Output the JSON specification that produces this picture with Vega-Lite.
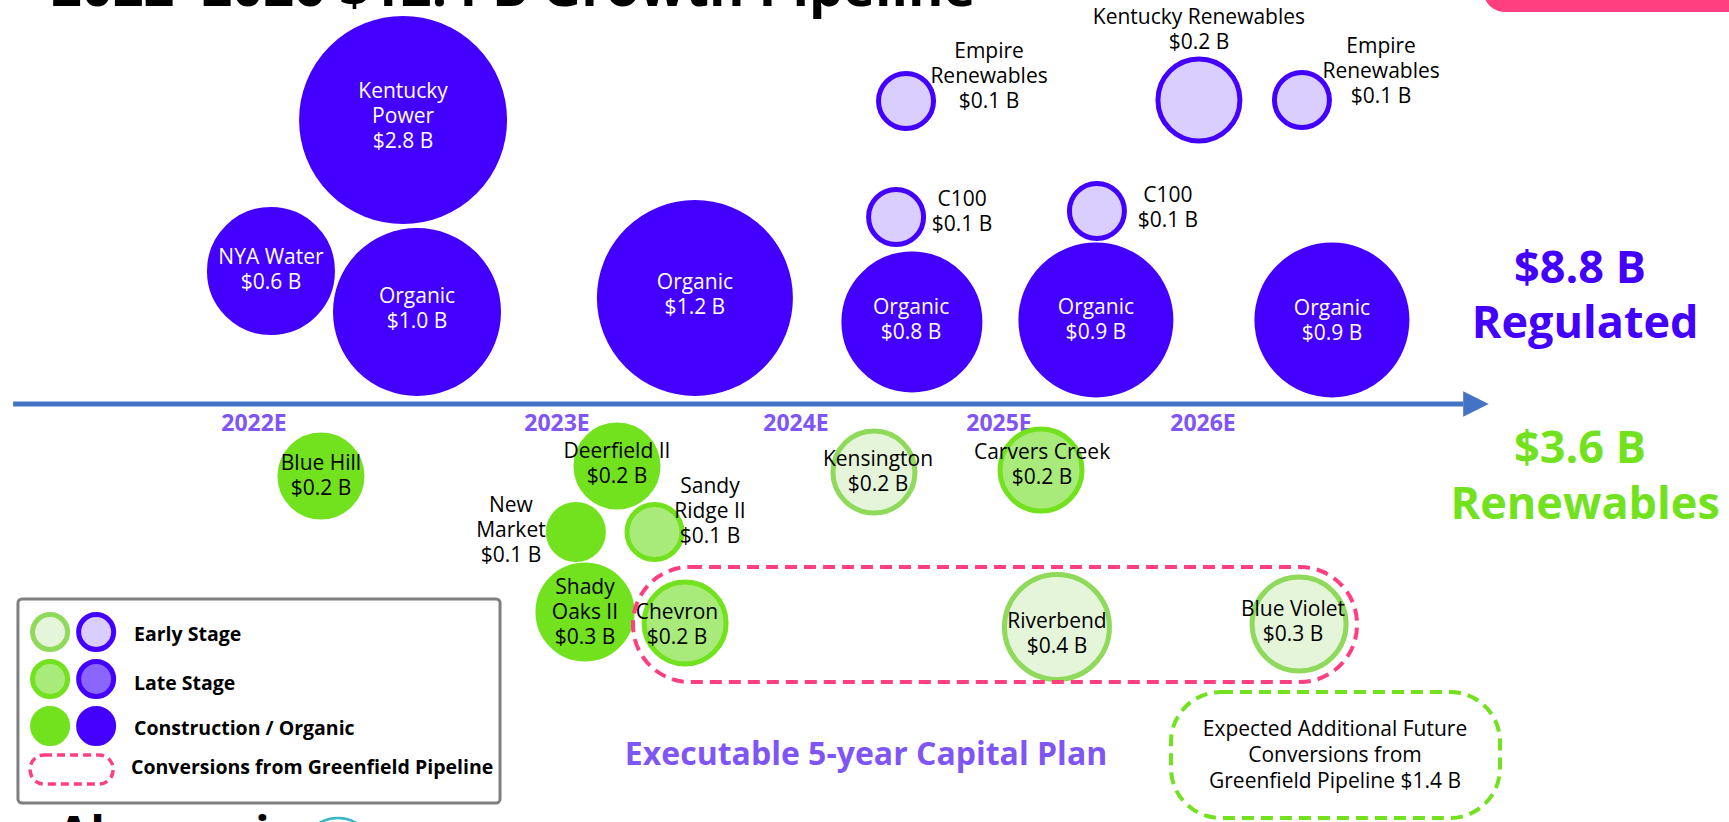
{
  "$schema": "https://vega.github.io/schema/vega-lite/v6.json",
  "width": 1729,
  "height": 822,
  "autosize": {"type": "none"},
  "padding": 0,
  "background": "white",
  "config": {"view": {"stroke": null}, "font": "Open Sans"},
  "datasets": {
    "bubbles": [
      {"name": "Kentucky Power", "value": 2.8, "segment": "Regulated", "stage": "Construction / Organic", "t": 2022.492, "level": 2.84, "label": "Kentucky\nPower\n$2.8 B", "lt": 2022.492, "ly": 3.12},
      {"name": "NYA Water", "value": 0.6, "segment": "Regulated", "stage": "Construction / Organic", "t": 2022.056, "level": 1.33, "label": "NYA Water\n$0.6 B", "lt": 2022.056, "ly": 1.46},
      {"name": "Organic 2022", "value": 1.0, "segment": "Regulated", "stage": "Construction / Organic", "t": 2022.538, "level": 0.92, "label": "Organic\n$1.0 B", "lt": 2022.538, "ly": 1.07},
      {"name": "Organic 2023", "value": 1.2, "segment": "Regulated", "stage": "Construction / Organic", "t": 2023.577, "level": 1.06, "label": "Organic\n$1.2 B", "lt": 2023.577, "ly": 1.21},
      {"name": "Organic 2024", "value": 0.8, "segment": "Regulated", "stage": "Construction / Organic", "t": 2024.571, "level": 0.82, "label": "Organic\n$0.8 B", "lt": 2024.567, "ly": 0.96},
      {"name": "Organic 2025", "value": 0.9, "segment": "Regulated", "stage": "Construction / Organic", "t": 2025.475, "level": 0.84, "label": "Organic\n$0.9 B", "lt": 2025.475, "ly": 0.96},
      {"name": "Organic 2026", "value": 0.9, "segment": "Regulated", "stage": "Construction / Organic", "t": 2026.632, "level": 0.84, "label": "Organic\n$0.9 B", "lt": 2026.632, "ly": 0.95},
      {"name": "Empire Renewables 2024", "value": 0.1, "segment": "Regulated", "stage": "Early Stage", "t": 2024.542, "level": 3.03, "label": "Empire\nRenewables\n$0.1 B", "lt": 2024.951, "ly": 3.52},
      {"name": "C100 2024", "value": 0.1, "segment": "Regulated", "stage": "Early Stage", "t": 2024.493, "level": 1.87, "label": "C100\n$0.1 B", "lt": 2024.818, "ly": 2.04},
      {"name": "C100 2025", "value": 0.1, "segment": "Regulated", "stage": "Early Stage", "t": 2025.48, "level": 1.93, "label": "C100\n$0.1 B", "lt": 2025.828, "ly": 2.08},
      {"name": "Kentucky Renewables", "value": 0.2, "segment": "Regulated", "stage": "Early Stage", "t": 2025.98, "level": 3.04, "label": "Kentucky Renewables\n$0.2 B", "lt": 2025.98, "ly": 3.86},
      {"name": "Empire Renewables 2026", "value": 0.1, "segment": "Regulated", "stage": "Early Stage", "t": 2026.485, "level": 3.04, "label": "Empire\nRenewables\n$0.1 B", "lt": 2026.873, "ly": 3.57},
      {"name": "Blue Hill", "value": 0.2, "segment": "Renewables", "stage": "Construction / Organic", "t": 2022.221, "level": -0.72, "label": "Blue Hill\n$0.2 B", "lt": 2022.221, "ly": -0.6},
      {"name": "Deerfield II", "value": 0.2, "segment": "Renewables", "stage": "Construction / Organic", "t": 2023.251, "level": -0.62, "label": "Deerfield II\n$0.2 B", "lt": 2023.251, "ly": -0.48},
      {"name": "New Market", "value": 0.1, "segment": "Renewables", "stage": "Construction / Organic", "t": 2023.079, "level": -1.28, "label": "New\nMarket\n$0.1 B", "lt": 2022.848, "ly": -1.02},
      {"name": "Sandy Ridge II", "value": 0.1, "segment": "Renewables", "stage": "Late Stage", "t": 2023.408, "level": -1.28, "label": "Sandy\nRidge II\n$0.1 B", "lt": 2023.64, "ly": -0.83},
      {"name": "Shady Oaks II", "value": 0.3, "segment": "Renewables", "stage": "Construction / Organic", "t": 2023.117, "level": -2.08, "label": "Shady\nOaks II\n$0.3 B", "lt": 2023.117, "ly": -1.84},
      {"name": "Chevron", "value": 0.2, "segment": "Renewables", "stage": "Late Stage", "t": 2023.536, "level": -2.19, "label": "Chevron\n$0.2 B", "lt": 2023.502, "ly": -2.09},
      {"name": "Kensington", "value": 0.2, "segment": "Renewables", "stage": "Early Stage", "t": 2024.384, "level": -0.68, "label": "Kensington\n$0.2 B", "lt": 2024.404, "ly": -0.56},
      {"name": "Carvers Creek", "value": 0.2, "segment": "Renewables", "stage": "Late Stage", "t": 2025.206, "level": -0.66, "label": "Carvers Creek\n$0.2 B", "lt": 2025.211, "ly": -0.49},
      {"name": "Riverbend", "value": 0.4, "segment": "Renewables", "stage": "Early Stage", "t": 2025.284, "level": -2.23, "label": "Riverbend\n$0.4 B", "lt": 2025.284, "ly": -2.18},
      {"name": "Blue Violet", "value": 0.3, "segment": "Renewables", "stage": "Early Stage", "t": 2026.471, "level": -2.2, "label": "Blue Violet\n$0.3 B", "lt": 2026.441, "ly": -2.06}
    ],
    "legendItems": [
      {"segment": "Renewables", "stage": "Early Stage", "t": 2021.327, "level": -2.28},
      {"segment": "Regulated", "stage": "Early Stage", "t": 2021.479, "level": -2.28},
      {"segment": "Renewables", "stage": "Late Stage", "t": 2021.327, "level": -2.75},
      {"segment": "Regulated", "stage": "Late Stage", "t": 2021.479, "level": -2.75},
      {"segment": "Renewables", "stage": "Construction / Organic", "t": 2021.327, "level": -3.22},
      {"segment": "Regulated", "stage": "Construction / Organic", "t": 2021.479, "level": -3.22}
    ]
  },
  "layer": [
    {
      "data": {"values": [{"t": 2027.373, "t2": 2029, "level": 4.6, "level2": 3.92}]},
      "mark": {"type": "rect", "fill": "#FF3F7F", "cornerRadius": 22},
      "encoding": {
        "x": {"field": "t", "type": "quantitative", "axis": null, "scale": {"type": "linear", "domain": [2020, 2022, 2023, 2024, 2025, 2026, 2029], "range": [-352, 254, 557, 796, 999, 1203, 1815], "nice": false, "zero": false}},
        "x2": {"field": "t2"},
        "y": {"field": "level", "type": "quantitative", "axis": null, "scale": {"domain": [-4.18, 4.04], "range": [822, 0], "nice": false, "zero": false}},
        "y2": {"field": "level2"}
      }
    },
    {
      "data": {"values": [{"text": "2022–2026 $12.4 B Growth Pipeline", "t": 2021.33, "level": 3.98}]},
      "mark": {"type": "text", "align": "left", "baseline": "alphabetic", "fontSize": 54, "fontWeight": "bold", "fill": "#000000"},
      "encoding": {
        "x": {"field": "t", "type": "quantitative"},
        "y": {"field": "level", "type": "quantitative"},
        "text": {"field": "text"}
      }
    },
    {
      "data": {"values": [{"t": 2021.205, "t2": 2027.275, "level": 0}]},
      "mark": {"type": "rule", "stroke": "#4472C4", "strokeWidth": 5},
      "encoding": {
        "x": {"field": "t", "type": "quantitative"},
        "x2": {"field": "t2"},
        "y": {"field": "level", "type": "quantitative"}
      }
    },
    {
      "data": {"values": [{"t": 2027.338, "level": 0}]},
      "mark": {"type": "point", "shape": "M-1,-1L1,0L-1,1Z", "filled": true, "fill": "#4472C4", "opacity": 1, "size": 650, "strokeWidth": 0},
      "encoding": {
        "x": {"field": "t", "type": "quantitative"},
        "y": {"field": "level", "type": "quantitative"}
      }
    },
    {
      "data": {"values": [
        {"year": 2022, "label": "2022E", "level": -0.2},
        {"year": 2023, "label": "2023E", "level": -0.2},
        {"year": 2024, "label": "2024E", "level": -0.2},
        {"year": 2025, "label": "2025E", "level": -0.2},
        {"year": 2026, "label": "2026E", "level": -0.2}
      ]},
      "mark": {"type": "text", "align": "center", "baseline": "middle", "fontSize": 23, "fontWeight": "bold", "fill": "#7F56F5"},
      "encoding": {
        "x": {"field": "year", "type": "quantitative"},
        "y": {"field": "level", "type": "quantitative"},
        "text": {"field": "label"}
      }
    },
    {
      "data": {"name": "bubbles"},
      "transform": [{"calculate": "datum.segment + '|' + datum.stage", "as": "cat"}],
      "mark": {"type": "point", "shape": "circle", "filled": true, "opacity": 1, "strokeWidth": 5},
      "encoding": {
        "x": {"field": "t", "type": "quantitative"},
        "y": {"field": "level", "type": "quantitative"},
        "size": {"field": "value", "type": "quantitative", "legend": null, "scale": {"type": "linear", "domain": [0.1, 0.2, 0.3, 0.4, 0.6, 0.8, 0.9, 1.0, 1.2, 2.8], "range": [3025, 6724, 8836, 11025, 15129, 18496, 22500, 26569, 36481, 41209]}},
        "fill": {"field": "cat", "type": "nominal", "legend": null, "scale": {"domain": ["Regulated|Construction / Organic", "Regulated|Late Stage", "Regulated|Early Stage", "Renewables|Construction / Organic", "Renewables|Late Stage", "Renewables|Early Stage"], "range": ["#4400FF", "#8A66FF", "#D9CEFF", "#72E21E", "#A8EB7A", "#E5F5DA"]}},
        "stroke": {"field": "cat", "type": "nominal", "legend": null, "scale": {"domain": ["Regulated|Construction / Organic", "Regulated|Late Stage", "Regulated|Early Stage", "Renewables|Construction / Organic", "Renewables|Late Stage", "Renewables|Early Stage"], "range": ["#4400FF", "#4400FF", "#4400FF", "#72E21E", "#72E21E", "#8FD95B"]}}
      }
    },
    {
      "data": {"values": [{"t": 2023.318, "t2": 2026.755, "level": -1.63, "level2": -2.78}]},
      "mark": {"type": "rect", "fill": "transparent", "stroke": "#FF3F7F", "strokeWidth": 4, "strokeDash": [12, 7], "cornerRadius": 57},
      "encoding": {
        "x": {"field": "t", "type": "quantitative"},
        "x2": {"field": "t2"},
        "y": {"field": "level", "type": "quantitative"},
        "y2": {"field": "level2"}
      }
    },
    {
      "data": {"name": "bubbles"},
      "mark": {"type": "text", "align": "center", "baseline": "middle", "fontSize": 21, "lineHeight": 25, "lineBreak": "\n"},
      "encoding": {
        "x": {"field": "lt", "type": "quantitative"},
        "y": {"field": "ly", "type": "quantitative"},
        "text": {"field": "label"},
        "color": {"condition": {"test": "datum.segment === 'Regulated' && datum.stage === 'Construction / Organic'", "value": "#FFFFFF"}, "value": "#000000"}
      }
    },
    {
      "data": {"values": [{"t": 2025.843, "t2": 2027.456, "level": -2.88, "level2": -4.14}]},
      "mark": {"type": "rect", "fill": "transparent", "stroke": "#72E21E", "strokeWidth": 4, "strokeDash": [12, 7], "cornerRadius": 50},
      "encoding": {
        "x": {"field": "t", "type": "quantitative"},
        "x2": {"field": "t2"},
        "y": {"field": "level", "type": "quantitative"},
        "y2": {"field": "level2"}
      }
    },
    {
      "data": {"values": [{"text": "Expected Additional Future\nConversions from\nGreenfield Pipeline $1.4 B", "t": 2026.647, "level": -3.26}]},
      "mark": {"type": "text", "align": "center", "baseline": "middle", "fontSize": 21, "lineHeight": 26, "lineBreak": "\n", "fill": "#000000"},
      "encoding": {
        "x": {"field": "t", "type": "quantitative"},
        "y": {"field": "level", "type": "quantitative"},
        "text": {"field": "text"}
      }
    },
    {
      "data": {"values": [{"text": "Executable 5-year Capital Plan", "t": 2024.345, "level": -3.51}]},
      "mark": {"type": "text", "align": "center", "baseline": "middle", "fontSize": 32, "fontWeight": "bold", "fill": "#7F56F5"},
      "encoding": {
        "x": {"field": "t", "type": "quantitative"},
        "y": {"field": "level", "type": "quantitative"},
        "text": {"field": "text"}
      }
    },
    {
      "data": {"values": [
        {"text": "$8.8 B", "segment": "Regulated", "t": 2027.848, "level": 1.21},
        {"text": "Regulated", "segment": "Regulated", "t": 2027.873, "level": 0.66},
        {"text": "$3.6 B", "segment": "Renewables", "t": 2027.848, "level": -0.59},
        {"text": "Renewables", "segment": "Renewables", "t": 2027.873, "level": -1.15}
      ]},
      "mark": {"type": "text", "align": "center", "baseline": "alphabetic", "fontSize": 45, "fontWeight": "bold"},
      "encoding": {
        "x": {"field": "t", "type": "quantitative"},
        "y": {"field": "level", "type": "quantitative"},
        "text": {"field": "text"},
        "color": {"field": "segment", "type": "nominal", "legend": null, "scale": {"domain": ["Regulated", "Renewables"], "range": ["#4400FF", "#72E21E"]}}
      }
    },
    {
      "data": {"values": [{"t": 2021.221, "t2": 2022.812, "level": -1.95, "level2": -3.99}]},
      "mark": {"type": "rect", "fill": "#FFFFFF", "stroke": "#7F7F7F", "strokeWidth": 3, "cornerRadius": 4},
      "encoding": {
        "x": {"field": "t", "type": "quantitative"},
        "x2": {"field": "t2"},
        "y": {"field": "level", "type": "quantitative"},
        "y2": {"field": "level2"}
      }
    },
    {
      "data": {"name": "legendItems"},
      "transform": [{"calculate": "datum.segment + '|' + datum.stage", "as": "cat"}],
      "mark": {"type": "point", "shape": "circle", "filled": true, "opacity": 1, "strokeWidth": 5, "size": 1225},
      "encoding": {
        "x": {"field": "t", "type": "quantitative"},
        "y": {"field": "level", "type": "quantitative"},
        "fill": {"field": "cat", "type": "nominal", "legend": null},
        "stroke": {"field": "cat", "type": "nominal", "legend": null}
      }
    },
    {
      "data": {"values": [{"t": 2021.261, "t2": 2021.535, "level": -3.51, "level2": -3.8}]},
      "mark": {"type": "rect", "fill": "transparent", "stroke": "#FF3F7F", "strokeWidth": 3.5, "strokeDash": [8, 5], "cornerRadius": 14},
      "encoding": {
        "x": {"field": "t", "type": "quantitative"},
        "x2": {"field": "t2"},
        "y": {"field": "level", "type": "quantitative"},
        "y2": {"field": "level2"}
      }
    },
    {
      "data": {"values": [
        {"text": "Early Stage", "t": 2021.604, "level": -2.31},
        {"text": "Late Stage", "t": 2021.604, "level": -2.8},
        {"text": "Construction / Organic", "t": 2021.604, "level": -3.25},
        {"text": "Conversions from Greenfield Pipeline", "t": 2021.594, "level": -3.64}
      ]},
      "mark": {"type": "text", "align": "left", "baseline": "middle", "fontSize": 19.5, "fontWeight": "bold", "fill": "#000000"},
      "encoding": {
        "x": {"field": "t", "type": "quantitative"},
        "y": {"field": "level", "type": "quantitative"},
        "text": {"field": "text"}
      }
    },
    {
      "data": {"values": [{"text": "Algonquin", "t": 2021.35, "level": -4.47}]},
      "mark": {"type": "text", "align": "left", "baseline": "alphabetic", "fontSize": 48, "fontWeight": "bold", "fill": "#000000"},
      "encoding": {
        "x": {"field": "t", "type": "quantitative"},
        "y": {"field": "level", "type": "quantitative"},
        "text": {"field": "text"}
      }
    },
    {
      "data": {"values": [{"t": 2022.277, "level": -4.5}]},
      "mark": {"type": "point", "shape": "circle", "filled": false, "opacity": 1, "stroke": "#3AB5C6", "strokeWidth": 2.5, "size": 5200},
      "encoding": {
        "x": {"field": "t", "type": "quantitative"},
        "y": {"field": "level", "type": "quantitative"}
      }
    },
    {
      "data": {"values": [{"t": 2022.277, "level": -4.5}]},
      "mark": {"type": "point", "shape": "circle", "filled": false, "opacity": 1, "stroke": "#3AB5C6", "strokeWidth": 2.5, "size": 3300},
      "encoding": {
        "x": {"field": "t", "type": "quantitative"},
        "y": {"field": "level", "type": "quantitative"}
      }
    }
  ]
}
